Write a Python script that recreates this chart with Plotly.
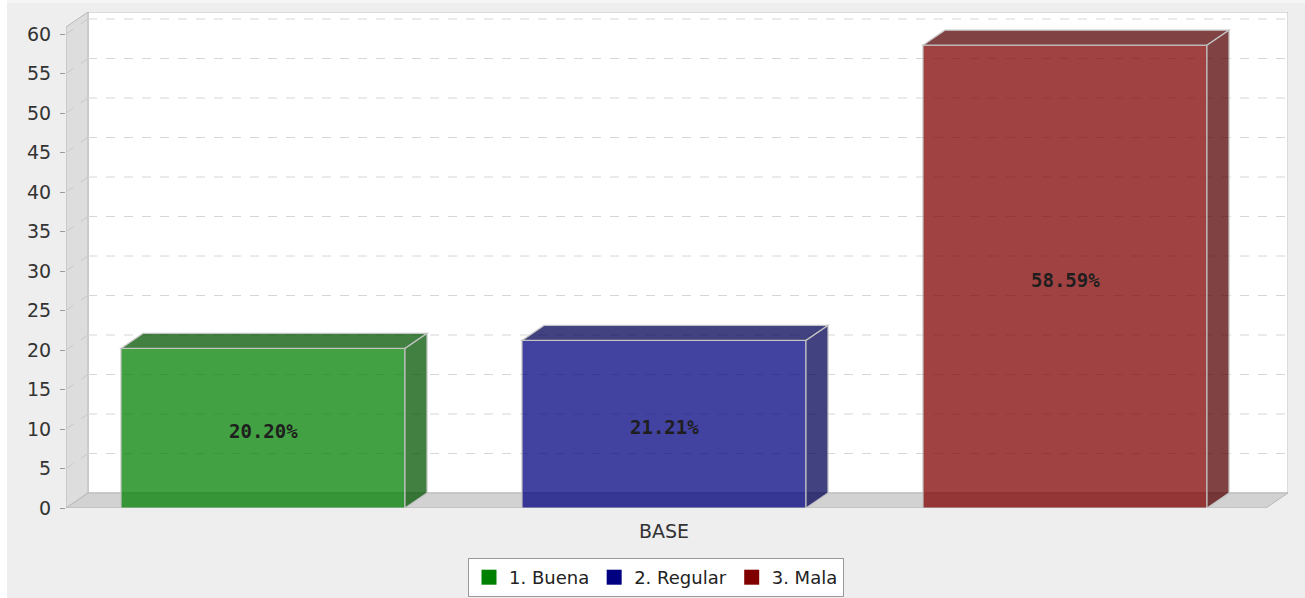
import plotly.graph_objects as go

# ---------------- data ----------------
categories = ["BASE"]
series = ["1. Buena", "2. Regular", "3. Mala"]
values = [20.20, 21.21, 58.59]
labels = ["20.20%", "21.21%", "58.59%"]
colors = ["#008000", "#000080", "#800000"]
y_ticks = [0, 5, 10, 15, 20, 25, 30, 35, 40, 45, 50, 55, 60]

# ---------------- layout geometry (style) ----------------
W, H = 1305, 598
ML, MR, MT, MB = 66, 17, 12, 90
PW = W - ML - MR
PH = H - MT - MB
SLOT_PX = 401.0          # px between bar centres
Y_PX = 7.9               # px per y unit
XMIN = -197.0 / SLOT_PX
XMAX = XMIN + PW / SLOT_PX
YMAX = PH / Y_PX
DX = 22.0 / SLOT_PX      # 3D depth offset (x units)
DY = 15.0 / Y_PX         # 3D depth offset (y units)
BW = 284.0 / SLOT_PX     # bar width
ALPHA = 0.74
EDGE = "#C4C4C4"


def rgba(hexc, a, f=1.0):
    r, g, b = int(hexc[1:3], 16), int(hexc[3:5], 16), int(hexc[5:7], 16)
    return f"rgba({int(r * f)},{int(g * f)},{int(b * f)},{a})"


def poly(pts):
    return "M " + " L ".join(f"{x},{y}" for x, y in pts) + " Z"


fig = go.Figure()

shapes = []
# white strip at left edge of picture, light strip at top
shapes.append(dict(type="rect", xref="paper", yref="paper",
                   x0=-ML / PW, x1=(7 - ML) / PW, y0=-MB / PH, y1=1 + MT / PH,
                   fillcolor="white", line=dict(width=0), layer="below"))
shapes.append(dict(type="rect", xref="paper", yref="paper",
                   x0=(7 - ML) / PW, x1=1 + MR / PW, y0=1 + (MT - 3) / PH, y1=1 + MT / PH,
                   fillcolor="#F6F6F6", line=dict(width=0), layer="below"))

xl, xr = XMIN, XMAX
# back wall
shapes.append(dict(type="rect", xref="x", yref="y", x0=xl + DX, x1=xr, y0=DY, y1=YMAX,
                   fillcolor="white", line=dict(color="#B8B8B8", width=1), layer="below"))
# left wall
shapes.append(dict(type="path", xref="x", yref="y",
                   path=poly([(xl, 0), (xl + DX, DY), (xl + DX, YMAX), (xl, YMAX - DY)]),
                   fillcolor="#DDDDDD", line=dict(color="#B8B8B8", width=1), layer="below"))
# floor
shapes.append(dict(type="path", xref="x", yref="y",
                   path=poly([(xl, 0), (xl + DX, DY), (xr, DY), (xr - DX, 0)]),
                   fillcolor="#D2D2D2", line=dict(color="#B8B8B8", width=1), layer="below"))
# gridlines on back wall + left wall
for v in y_ticks[1:]:
    shapes.append(dict(type="line", xref="x", yref="y", x0=xl + DX, x1=xr, y0=v + DY, y1=v + DY,
                       line=dict(color="#D6D6D6", width=1, dash="dash"), layer="below"))
    shapes.append(dict(type="line", xref="x", yref="y", x0=xl, x1=xl + DX, y0=v, y1=v + DY,
                       line=dict(color="#C8C8C8", width=1, dash="dash"), layer="below"))

# bars (front faces)
for i, (s, v, lab, c) in enumerate(zip(series, values, labels, colors)):
    fig.add_trace(go.Bar(
        x=[i], y=[v], width=BW, name=s, showlegend=False,
        marker=dict(color=rgba(c, ALPHA), line=dict(color=EDGE, width=1.2)),
        hoverinfo="name+y",
    ))
    # data label, centred on the front face
    fig.add_annotation(x=i, y=v / 2, text=lab, showarrow=False, yshift=-3,
                       font=dict(family="DejaVu Sans Mono", size=19, color="#1e1e1e", weight="bold"))
    x0, x1 = i - BW / 2, i + BW / 2
    # top face
    shapes.append(dict(type="path", xref="x", yref="y",
                       path=poly([(x0, v), (x0 + DX, v + DY), (x1 + DX, v + DY), (x1, v)]),
                       fillcolor=rgba(c, ALPHA, 0.65), line=dict(color=EDGE, width=1.2), layer="above"))
    # side face
    shapes.append(dict(type="path", xref="x", yref="y",
                       path=poly([(x1, 0), (x1 + DX, DY), (x1 + DX, v + DY), (x1, v)]),
                       fillcolor=rgba(c, ALPHA, 0.65), line=dict(color=EDGE, width=1.2), layer="above"))

# legend entries
for s, c in zip(series, colors):
    fig.add_trace(go.Scatter(x=[None], y=[None], mode="markers", name=s,
                             marker=dict(symbol="square", size=15, color=c)))

fig.update_layout(
    width=W, height=H, autosize=False,
    margin=dict(l=ML, r=MR, t=MT, b=MB, pad=0, autoexpand=False),
    paper_bgcolor="#EEEEEE", plot_bgcolor="rgba(0,0,0,0)",
    barmode="overlay",
    shapes=shapes,
    font=dict(family="DejaVu Sans", size=18, color="#333333"),
    xaxis=dict(range=[XMIN, XMAX], tickvals=[(len(series) - 1) / 2], ticktext=categories,
               showgrid=False, zeroline=False, showline=False, automargin=False,
               ticks="outside", ticklen=6, tickcolor="rgba(0,0,0,0)",
               tickfont=dict(size=19, color="#333333"), fixedrange=True),
    yaxis=dict(range=[0, YMAX], tickvals=y_ticks, showgrid=False, zeroline=False, showline=False,
               automargin=False, ticks="outside", ticklen=5, tickcolor="#999999",
               ticklabelstandoff=5,
               tickfont=dict(size=19, color="#333333"), fixedrange=True),
    legend=dict(orientation="h", xref="container", yref="container",
                x=656 / W, xanchor="center", y=1.0 / H, yanchor="bottom",
                bgcolor="white", bordercolor="#999999", borderwidth=1,
                font=dict(size=18, color="#222222"), itemwidth=30, tracegroupgap=0),
    showlegend=True,
)

fig.write_html("out.html", config={"displayModeBar": False},
               post_script="document.body.style.margin='0';document.body.style.overflow='hidden';")
